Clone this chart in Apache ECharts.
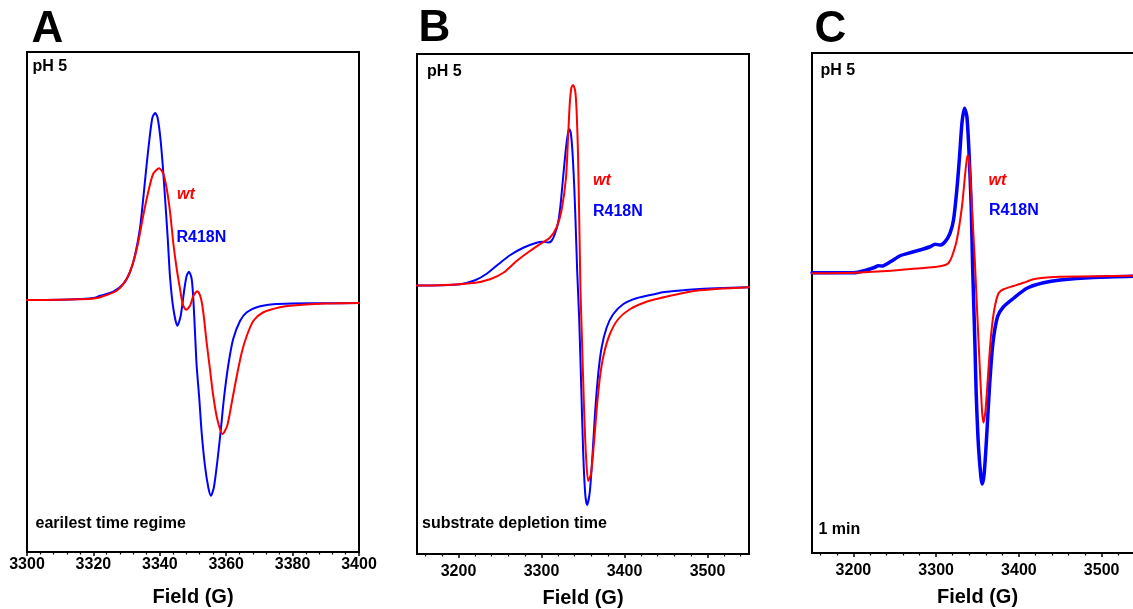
<!DOCTYPE html>
<html><head><meta charset="utf-8">
<script src="https://cdn.jsdelivr.net/npm/echarts@6/dist/echarts.min.js"></script>
<style>html,body{margin:0;padding:0;background:#fff}#c{width:1133px;height:609px}</style>
</head><body><div id="c"></div>
<script>
// ---- text ----
const panelLetters = ['A', 'B', 'C'];
const conditionLabel = 'pH 5';
const timeLabels = ['earilest time regime', 'substrate depletion time', '1 min'];
const seriesNames = ['wt', 'R418N'];
const axisTitle = 'Field (G)';

// ---- axis ticks ----
const ticksA = [3300, 3320, 3340, 3360, 3380, 3400];
const majorTicksBC = [3200, 3300, 3400, 3500];
const minorTicksBC = [3160, 3180, 3220, 3240, 3260, 3280, 3320, 3340, 3360, 3380, 3420, 3440, 3460, 3480, 3520, 3540];

// ---- Panel A (earliest time regime) ----
const aWtField = [3300,3310,3316,3320,3322,3327,3330,3332,3333.5,3335,3336.5,3338,3339.8,3341.1,3342.1,3343.1,3344.1,3345.1,3346.1,3346.9,3347.9,3349.1,3350.1,3351.3,3352.3,3353.1,3354.1,3355.1,3356.1,3357.3,3358.9,3360.3,3361.7,3363.2,3364.7,3366.2,3368.2,3371.2,3376.2,3380,3390,3400];
const aWtSignal = [0.8,0.9,1.1,1.4,1.9,4.5,9.2,15.9,23.9,34.5,43.9,51.2,53.5,51.2,45.2,35.9,23.2,13.2,5.2,-0.8,-3.1,-1.5,2.5,4.3,1.9,-4.1,-16.1,-26.8,-37.5,-46.8,-52.8,-49.5,-40.1,-29.5,-20.1,-13.5,-7.5,-4.1,-2.1,-1.4,-0.6,-0.4];
const aMutField = [3300,3310,3316,3320,3322,3326,3329,3331,3332.5,3334,3335,3336,3337,3337.8,3338.6,3339.3,3340.1,3340.9,3341.6,3342.4,3343.1,3344.1,3345.3,3346.3,3347.4,3348.1,3348.8,3349.6,3350.1,3350.6,3351.1,3351.9,3352.6,3353.6,3354.6,3355.4,3356.3,3357.3,3358.3,3359.3,3360.6,3362.1,3364.2,3366.2,3369.2,3374.2,3380,3390,3400];
const aMutSignal = [0.8,0.9,1.2,1.6,2.5,4.1,7.2,11.9,18.5,29.2,41.2,54.5,66.5,73.9,75.6,73.9,66.5,54.5,41.2,25.2,9.6,-2.8,-9.5,-5.5,5.2,10.5,12.1,9.2,1.2,-12.1,-25.5,-38.8,-52.1,-65.5,-74.1,-77.5,-74.1,-64.1,-52.1,-38.8,-25.5,-14.8,-7.5,-4.1,-2.1,-0.9,-0.6,-0.5,-0.4];

// ---- Panel B (substrate depletion time) ----
const bWtField = [3150,3178,3218,3238,3254,3270,3286,3298,3310,3318,3324,3329.5,3332,3334,3336,3338,3340.6,3342.3,3344,3345.5,3347,3348.7,3351.1,3353.5,3356.3,3359.5,3363.1,3366.3,3370.3,3375.1,3382.3,3392.3,3406.4,3426.4,3442.4,3486,3550];
const bWtSignal = [7.4,7.5,8.4,9.9,12.5,17.2,21.2,23.9,26.5,30.5,37.2,50.5,66.5,79.9,86.5,87.6,85.2,77.2,59.9,33.2,5.2,-13.5,-40.1,-60.1,-70.8,-68.1,-56.1,-42.8,-29.5,-20.1,-12.1,-6.1,-2.1,0.9,2.3,5.3,6.7];
const bMutField = [3150,3178,3202,3220,3234,3248,3262,3278,3294,3302,3308,3312,3316,3320,3323,3326,3329.5,3332,3333.5,3335.5,3337.5,3339.5,3341,3343,3345.5,3347.9,3350.3,3352.7,3355,3358.3,3361.5,3364.7,3368.3,3372.4,3378.4,3386.3,3398.3,3414.4,3438.5,3446,3486,3550];
const bMutSignal = [7.4,7.5,7.9,9.5,12.1,15.9,19.5,22.5,24.5,24.9,24.6,25.2,27.9,32.5,39.9,50.5,62.5,68.5,69.9,67.9,59.9,46.5,33.2,13.2,-6.8,-33.5,-60.1,-76.1,-80.5,-74.8,-60.1,-42.8,-28.1,-17.5,-9.5,-4.1,-0.1,2.3,4.1,4.7,5.9,6.7];

// ---- Panel C (1 min) ----
const cWtField = [3150,3200,3240.6,3280.8,3301,3311,3315,3319,3325,3331.2,3335.2,3338,3340.3,3343.2,3346.6,3349.2,3353.3,3355.7,3357.3,3359.7,3362.6,3366.2,3370.2,3375.4,3381.4,3393.5,3405.6,3417.6,3437.8,3449.9,3550];
const cWtSignal = [11.9,12.1,12.8,13.9,14.5,15.2,16.0,18.5,25.2,38.5,51.9,59.2,55.9,38.5,18.1,-0.8,-29.5,-44.1,-47.9,-42.8,-29.5,-13.5,-2.8,3.9,5.5,6.8,8.1,9.5,10.3,10.5,11.0];
const cMutField = [3150,3200,3216,3226,3230,3234.5,3244.6,3256.6,3268.5,3280.6,3292.7,3298.7,3304.7,3310.8,3316.8,3321,3325,3328.3,3331.2,3334.3,3337.2,3340,3342.4,3344,3345.5,3347,3348.4,3351.2,3354.1,3355.7,3358.1,3361.3,3364.5,3368.6,3374.2,3381.4,3393.5,3409.7,3429.7,3449.9,3490,3550];
const cMutSignal = [12.1,12.1,13.2,14.3,14.9,14.8,16.5,18.9,20.1,21.2,22.5,23.5,23.2,24.5,27.9,33.2,45.2,58.5,71.9,77.9,74.5,58.5,38.5,16,-1,-18,-36.1,-57.5,-69.5,-72.4,-68.1,-52.1,-33.5,-16.1,-5.5,-1.5,1.9,5.9,8.1,9.2,10.2,10.8];

const RED = '#ff0000', BLUE = '#0000ff', FONT = '"Liberation Sans", Arial, Helvetica, sans-serif';
const zip = (xs, ys) => xs.map((x, i) => [x, ys[i]]);
const plain = v => String(v);

const grids = [
  { left: 27, top: 52, width: 332, height: 500 },
  { left: 417, top: 54, width: 332, height: 500 },
  { left: 812, top: 53, width: 331, height: 500 }
].map(g => Object.assign(g, { show: true, borderColor: '#000', borderWidth: 2, backgroundColor: 'transparent', containLabel: false, outerBoundsMode: 'none' }));

const labelStyle = { color: '#000', fontWeight: 'bold', fontSize: 16, fontFamily: FONT, formatter: plain };
const nameStyle = { color: '#000', fontWeight: 'bold', fontSize: 20, fontFamily: FONT };
const lineStyle = { color: '#000', width: 2 };

function mainAxisBC(gridIndex, margin, gap) {
  return {
    type: 'value', gridIndex, position: 'bottom', min: 3150, max: 3550,
    axisLine: { show: true, onZero: false, lineStyle },
    axisTick: { show: true, length: 4, lineStyle: { color: '#000', width: 1.5 }, customValues: majorTicksBC },
    axisLabel: Object.assign({ margin, customValues: majorTicksBC }, labelStyle),
    splitLine: { show: false },
    name: axisTitle, nameLocation: 'middle', nameGap: gap, nameTextStyle: nameStyle
  };
}
function minorAxisBC(gridIndex) {
  return {
    type: 'value', gridIndex, position: 'bottom', offset: 0, min: 3150, max: 3550,
    axisLine: { show: false, onZero: false },
    axisTick: { show: true, length: 2.5, lineStyle: { color: '#000', width: 1.2 }, customValues: minorTicksBC },
    axisLabel: { show: false }, splitLine: { show: false }
  };
}

const xAxis = [
  {
    type: 'value', gridIndex: 0, position: 'bottom', min: ticksA[0], max: ticksA[ticksA.length - 1], interval: 20,
    axisLine: { show: true, onZero: false, lineStyle },
    axisTick: { show: true, length: 4, lineStyle: { color: '#000', width: 1.5 } },
    minorTick: { show: true, splitNumber: 5, length: 2.5, lineStyle: { color: '#000', width: 1.2 } },
    axisLabel: Object.assign({ margin: 5, showMinLabel: true, showMaxLabel: true }, labelStyle),
    splitLine: { show: false }, minorSplitLine: { show: false },
    name: axisTitle, nameLocation: 'middle', nameGap: 35, nameTextStyle: nameStyle
  },
  mainAxisBC(1, 10, 34), minorAxisBC(1),
  mainAxisBC(2, 9.5, 34), minorAxisBC(2)
];
const yAxis = [0, 1, 2].map(i => ({ type: 'value', gridIndex: i, min: -100, max: 100, show: false, splitLine: { show: false } }));

function mk(name, xi, yi, data, color, width) {
  return { name, type: 'line', xAxisIndex: xi, yAxisIndex: yi, data, showSymbol: false, symbol: 'none',
    smooth: 0.25, lineStyle: { color, width, join: 'round', cap: 'round' }, itemStyle: { color }, animation: false, z: 3 };
}
const series = [
  mk(seriesNames[1], 0, 0, zip(aMutField, aMutSignal), BLUE, 2),
  mk(seriesNames[0], 0, 0, zip(aWtField, aWtSignal), RED, 2),
  mk(seriesNames[1], 1, 1, zip(bMutField, bMutSignal), BLUE, 2),
  mk(seriesNames[0], 1, 1, zip(bWtField, bWtSignal), RED, 2),
  mk(seriesNames[1], 3, 2, zip(cMutField, cMutSignal), BLUE, 3.5),
  mk(seriesNames[0], 3, 2, zip(cWtField, cWtSignal), RED, 2)
];

function txt(text, x, y, size, color, opts) {
  opts = opts || {};
  return { type: 'text', x, y, z: 10, silent: true,
    style: { text, fill: color, font: (opts.italic ? 'italic ' : '') + 'bold ' + size + 'px ' + FONT,
      align: 'left', verticalAlign: 'middle', textAlign: 'left', textVerticalAlign: 'middle' } };
}
const graphic = [
  txt(panelLetters[0], 31.5, 30, 44, '#000'),
  txt(panelLetters[1], 418.5, 28.7, 44, '#000'),
  txt(panelLetters[2], 814.5, 29.5, 44, '#000'),
  txt(conditionLabel, 32.5, 66.5, 16, '#000'),
  txt(conditionLabel, 427, 72, 16, '#000'),
  txt(conditionLabel, 820.5, 71, 16, '#000'),
  txt(timeLabels[0], 35.5, 523.7, 16, '#000'),
  txt(timeLabels[1], 422, 524, 16, '#000'),
  txt(timeLabels[2], 818.5, 530, 16, '#000'),
  txt(seriesNames[0], 177, 194.5, 16, RED, { italic: true }),
  txt(seriesNames[1], 176.5, 237.5, 16, BLUE),
  txt(seriesNames[0], 593, 181, 16, RED, { italic: true }),
  txt(seriesNames[1], 593, 211.7, 16, BLUE),
  txt(seriesNames[0], 988.5, 181, 16, RED, { italic: true }),
  txt(seriesNames[1], 989, 210.7, 16, BLUE)
];

const chart = echarts.init(document.getElementById('c'), null, { renderer: 'canvas' });
chart.setOption({ animation: false, backgroundColor: '#fff', grid: grids, xAxis, yAxis, series, graphic, tooltip: { show: false } });
</script>
</body></html>
